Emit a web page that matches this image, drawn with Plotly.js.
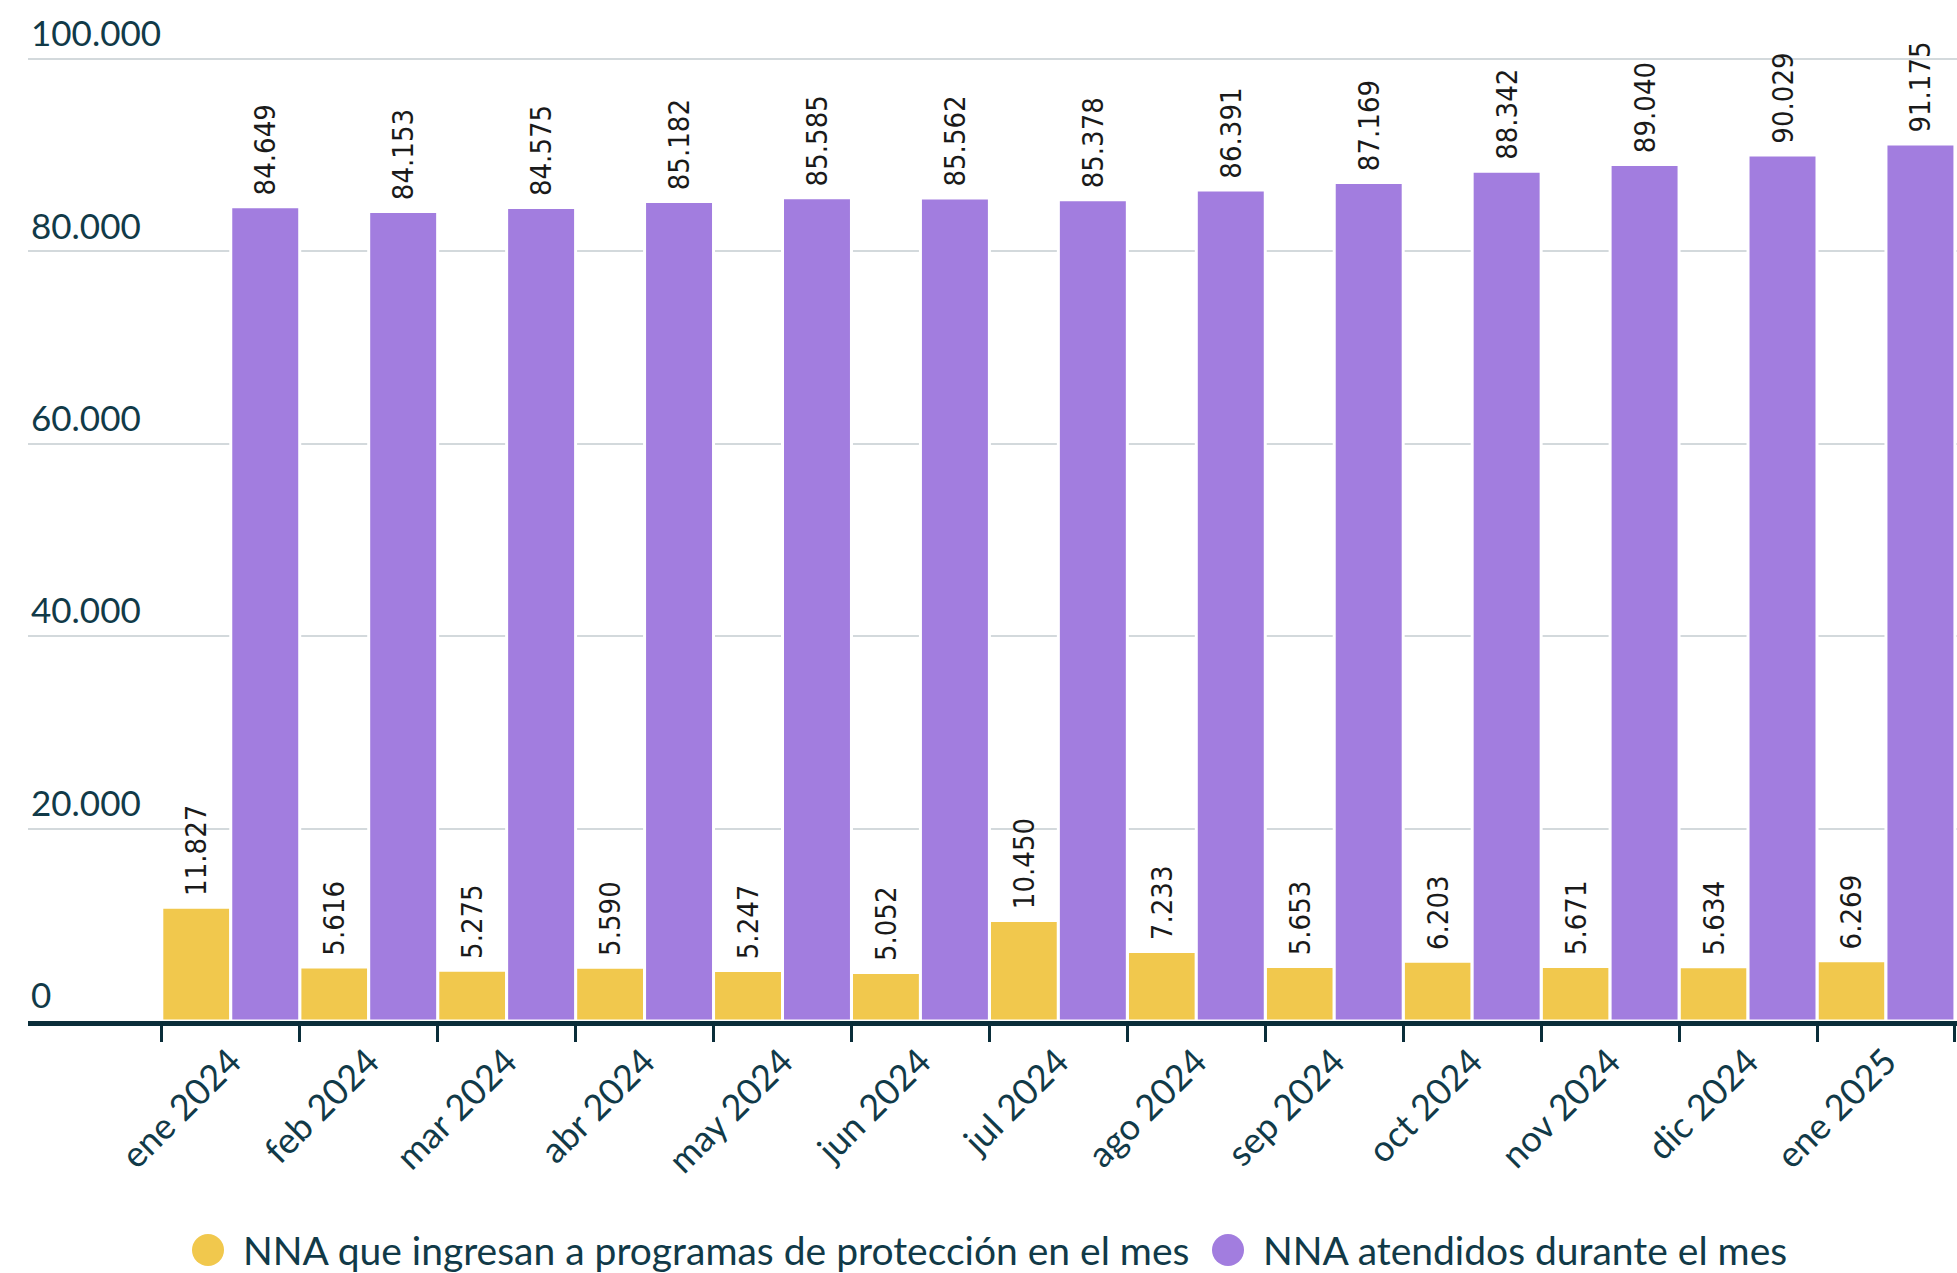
<!DOCTYPE html>
<html>
<head>
<meta charset="utf-8">
<script src="https://cdn.plot.ly/plotly-3.0.1.min.js"></script>
<style>html,body{margin:0;padding:0;background:#fff;}#chart{width:1957px;height:1273px;}</style>
</head>
<body>
<div id="chart"></div>
<script>
const months = ["ene 2024","feb 2024","mar 2024","abr 2024","may 2024","jun 2024","jul 2024","ago 2024","sep 2024","oct 2024","nov 2024","dic 2024","ene 2025"];
const ingresan = [11827,5616,5275,5590,5247,5052,10450,7233,5653,6203,5671,5634,6269];
const atendidos = [84649,84153,84575,85182,85585,85562,85378,86391,87169,88342,89040,90029,91175];
const yTicks = [0,20000,40000,60000,80000,100000];
const seriesNames = ["NNA que ingresan a programas de protección en el mes","NNA atendidos durante el mes"];
const colors = ["#f1c84d","#a27ddf"];

const labelFont = {family:"'Liberation Sans Narrow', 'DejaVu Sans Condensed', sans-serif", size:29, color:"#1a1a1a"};
const mainFont = "Lato, 'Noto Sans', sans-serif";
const ink = "#113a48";

function barTrace(vals, i){
  return {
    type:"bar", x:months, y:vals, name:seriesNames[i],
    marker:{color:colors[i], line:{color:"#ffffff", width:3}},
    texttemplate:"\u00a0%{y:,}", textposition:"outside", textangle:-90,
    constraintext:"none",
    textfont:labelFont, cliponaxis:false, showlegend:false, hoverinfo:"x+y"
  };
}

const W=1957, H=1273, ml=28, mr=0, mt=3, mb=252;
const pw=W-ml-mr, ph=H-mt-mb;
const yTop = 100000*ph/962;
const legY = -(1250-(H-mb))/ph;
function px(xp){return (xp-ml)/pw;}

const layout = {
  width:W, height:H,
  margin:{l:ml, r:mr, t:mt, b:mb, pad:0},
  paper_bgcolor:"#fff", plot_bgcolor:"#fff",
  separators:",.",
  barmode:"group", bargap:0, bargroupgap:0,
  font:{family:mainFont, color:ink},
  showlegend:false,
  xaxis:{
    type:"category", range:[-1.47,12.515],
    showline:true, linecolor:"#0b2e3a", linewidth:5,
    ticks:"outside", tickson:"boundaries", ticklen:16, tickwidth:3, tickcolor:"#0b2e3a",
    tickangle:-45, tickfont:{family:mainFont, size:36, color:ink},
    showgrid:false, zeroline:false, fixedrange:true
  },
  yaxis:{
    range:[0,yTop], tickvals:yTicks, tickformat:",d",
    ticklabelposition:"inside", ticklabelshift:-25, ticklabelstandoff:0,
    tickfont:{family:mainFont, size:35, color:ink},
    showgrid:true, gridcolor:"#d3d9dc", gridwidth:2,
    zeroline:false, showline:false, ticks:"", fixedrange:true
  },
  shapes:[
    {type:"circle", xref:"paper", yref:"paper", xsizemode:"pixel", ysizemode:"pixel",
     xanchor:px(208), yanchor:legY, x0:-16, x1:16, y0:-16, y1:16,
     fillcolor:colors[0], line:{width:0}},
    {type:"circle", xref:"paper", yref:"paper", xsizemode:"pixel", ysizemode:"pixel",
     xanchor:px(1228), yanchor:legY, x0:-16, x1:16, y0:-16, y1:16,
     fillcolor:colors[1], line:{width:0}}
  ],
  annotations:[
    {xref:"paper", yref:"paper", x:px(241), y:legY, xanchor:"left", yanchor:"middle",
     text:seriesNames[0], showarrow:false, font:{family:mainFont, size:39, color:ink}},
    {xref:"paper", yref:"paper", x:px(1261), y:legY, xanchor:"left", yanchor:"middle",
     text:seriesNames[1], showarrow:false, font:{family:mainFont, size:39, color:ink}}
  ]
};

Plotly.newPlot("chart", [barTrace(ingresan,0), barTrace(atendidos,1)], layout, {displayModeBar:false, staticPlot:true});
</script>
</body>
</html>
